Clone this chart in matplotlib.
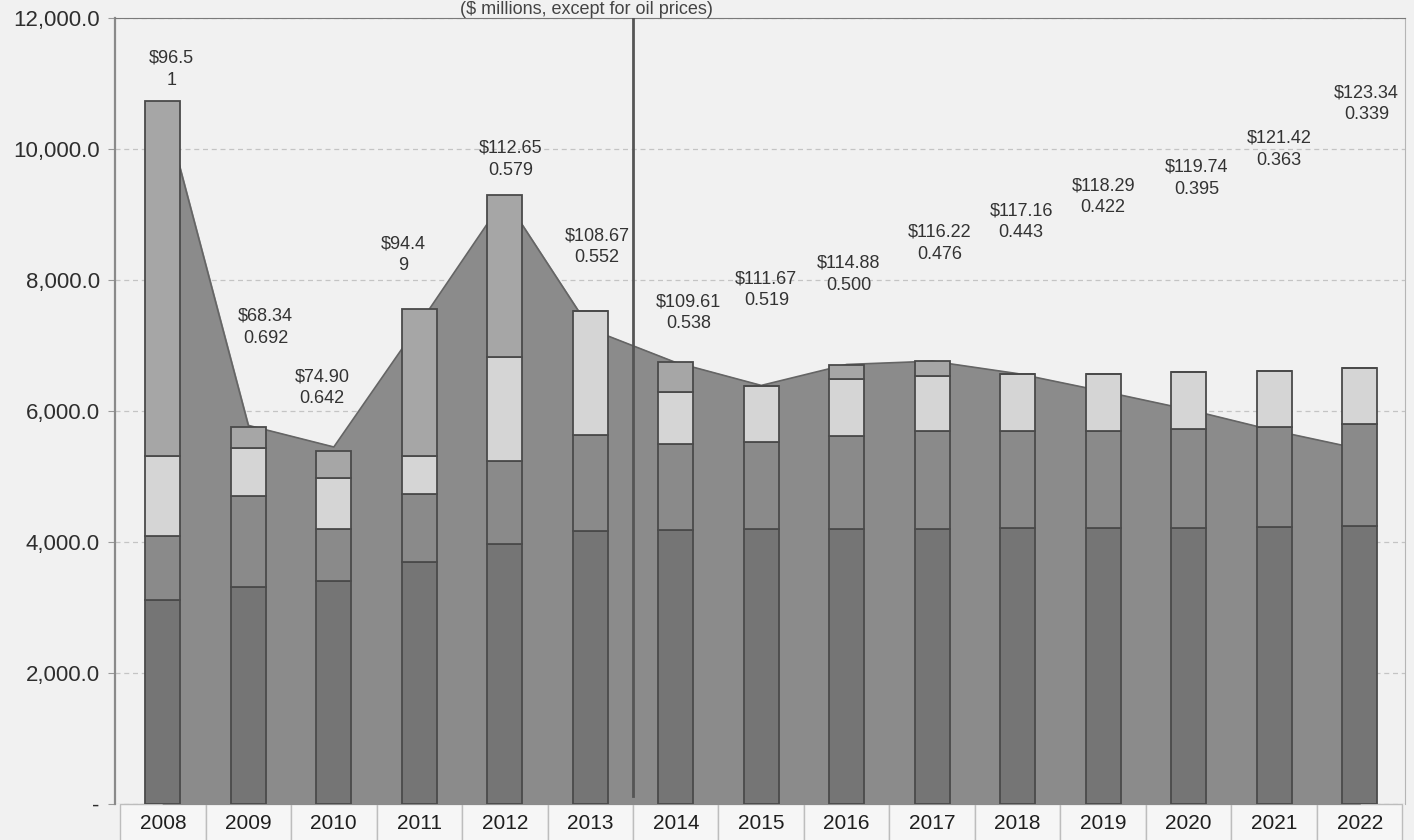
import numpy as np
import matplotlib.pyplot as plt
from matplotlib.ticker import FuncFormatter

plt.rcParams['font.family'] = ['Liberation Sans', 'DejaVu Sans']

years = [str(y) for y in range(2008, 2023)]

# stacked components ($ millions), bottom to top
seg_dark = [3120, 3310, 3400, 3690, 3970, 4165, 4180, 4195, 4195, 4195, 4210, 4210, 4210, 4225, 4240]
seg_mid = [970, 1390, 800, 1040, 1270, 1470, 1320, 1330, 1425, 1500, 1485, 1485, 1515, 1530, 1560]
seg_light = [1225, 735, 780, 580, 1590, 1885, 795, 860, 875, 840, 875, 875, 875, 860, 860]
seg_top = [5420, 320, 410, 2250, 2470, 0, 460, 0, 200, 230, 0, 0, 0, 0, 0]

# background area series
area = [10700, 5780, 5450, 7330, 9250, 7250, 6740, 6390, 6710, 6760, 6570, 6300, 6020, 5700, 5420]

# oil price labels (as printed, incl. wrapped ones)
label_top = ['$96.5', '$68.34', '$74.90', '$94.4', '$112.65', '$108.67', '$109.61', '$111.67',
             '$114.88', '$116.22', '$117.16', '$118.29', '$119.74', '$121.42', '$123.34']
label_bot = ['1', '0.692', '0.642', '9', '0.579', '0.552', '0.538', '0.519',
             '0.500', '0.476', '0.443', '0.422', '0.395', '0.363', '0.339']

# label placement (layout only)
label_y = [11220, 7280, 6355, 8385, 9840, 8505, 7500, 7850, 8085, 8560, 8890, 9270, 9555, 10000, 10690]
label_dx = [0.1, 0.2, -0.14, -0.19, 0.07, 0.08, 0.15, 0.06, 0.02, 0.09, 0.04, 0.0, 0.09, 0.06, 0.08]

x = np.arange(len(years))
bg = '#f1f1f1'

fig = plt.figure(figsize=(14.14, 8.4), dpi=100, facecolor=bg)
ax = fig.add_axes([0.0813, 0.0429, 0.9123, 0.9357], facecolor=bg)

ax.fill_between(x, area, color='#8b8b8b', zorder=1)
ax.plot(x, area, color='#656565', lw=1.2, zorder=1.5)

colors = ['#757575', '#8a8a8a', '#d5d5d5', '#a6a6a6']
bottom = np.zeros(len(years))
for seg, c in zip([seg_dark, seg_mid, seg_light, seg_top], colors):
    seg = np.array(seg, dtype=float)
    ax.bar(x, seg, 0.41, bottom=bottom, color=c, edgecolor='#4a4a4a', lw=1.3, zorder=3)
    bottom += seg

ax.axvline(5.5, ymin=0.01, ymax=1, color='#555555', lw=2, zorder=4)

for i in range(len(years)):
    ax.text(x[i] + label_dx[i], label_y[i], label_top[i] + '\n' + label_bot[i],
            ha='center', va='center', fontsize=13, color='#333333', linespacing=1.4, zorder=5)

ax.set_xlim(-0.56, 14.53)
ax.set_ylim(0, 12000)
ax.set_yticks(np.arange(0, 12001, 2000))
ax.yaxis.set_major_formatter(FuncFormatter(lambda v, p: '-' if v == 0 else f'{v:,.1f}'))
ax.tick_params(axis='y', labelsize=16, colors='#2e2e2e', length=5, color='#999999', pad=6)
ax.yaxis.grid(True, ls=(0, (4, 3)), color='#c4c4c4', lw=0.9)
ax.set_axisbelow(True)
ax.set_xticks([])

ax.spines['left'].set_color('#8a8a8a')
ax.spines['left'].set_linewidth(1.6)
ax.spines['top'].set_color('#7a7a7a')
ax.spines['top'].set_linestyle((0, (3, 1)))
ax.spines['right'].set_color('#b5b5b5')
ax.spines['bottom'].set_visible(False)

# year cells under the axis
x0, x1 = ax.get_xlim()
left = (-0.5 - x0) / (x1 - x0)
width = len(years) / (x1 - x0)
tbl = ax.table(cellText=[years], cellLoc='center', bbox=[left, -0.05, width, 0.05])
tbl.auto_set_font_size(False)
tbl.set_fontsize(15)
for cell in tbl.get_celld().values():
    cell.set_edgecolor('#bdbdbd')
    cell.set_facecolor('#f6f6f6')
    cell.get_text().set_color('#1e1e1e')

fig.text(0.415, 0.9985, '($ millions, except for oil prices)', ha='center', va='top',
         fontsize=13, color='#444444')

fig.savefig('out.png', dpi=100, facecolor=bg)
